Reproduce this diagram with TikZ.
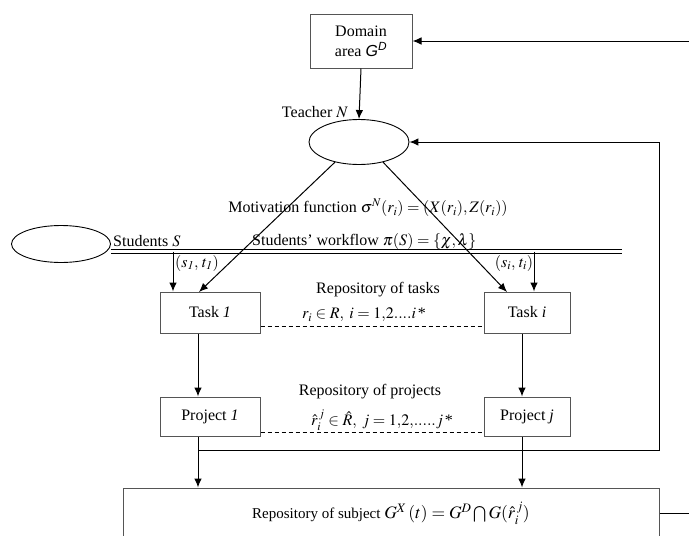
\documentclass[tikz,border=0pt]{standalone}
\usepackage{mathptmx}
\usepackage[no-math]{fontspec}
\setmainfont{Liberation Serif}
\setsansfont{Liberation Sans}
\usetikzlibrary{arrows.meta,shapes.geometric}

\definecolor{boxedge}{RGB}{85,85,85}

\tikzset{
  txt/.style={font=\fontsize{16}{19}\selectfont, inner sep=0pt},
  box/.style={draw=boxedge, line width=1pt, rectangle, inner sep=0pt,
              font=\fontsize{16}{20}\selectfont, align=center},
  oval/.style={draw=black, line width=0.9pt, ellipse, inner sep=0pt},
  flow/.style={draw=black, line width=1pt, -{Latex[length=9pt,width=7.5pt]}},
  plain/.style={draw=black, line width=1pt},
  link/.style={draw=black, line width=0.8pt, dash pattern=on 4pt off 3pt},
}

\begin{document}
\begin{tikzpicture}[x=1pt,y=-1pt]
\useasboundingbox (0,0) rectangle (689,536);
\clip (0,0) rectangle (689,536);

% boxes and actors
\node[box, minimum width=102pt, minimum height=54pt] (domain) at (361,41)
  {Domain\\area \textsf{\textit{G}\textsuperscript{\textit{D}}}};
\node[oval, minimum width=100pt, minimum height=45pt] (teacher) at (359,142) {};
\node[oval, minimum width=99pt, minimum height=37pt] (students) at (61,244) {};
\node[box, minimum width=100pt, minimum height=41pt] (t1) at (210,312.5) {Task \textit{1}};
\node[box, minimum width=86pt, minimum height=41pt] (ti) at (527,312.5) {Task \textit{i}};
\node[box, minimum width=100pt, minimum height=39pt] (p1) at (210,416.5) {Project \textit{1}};
\node[box, minimum width=86pt, minimum height=39pt] (pj) at (527,416.5) {Project \textit{j}};
\node[box, minimum width=536pt, minimum height=50pt] (subject) at (391,513)
  {\fontsize{15}{18}\selectfont Repository of subject
   {\fontsize{17.5}{20}\selectfont $G^{X}\,(t) = G^{D} \bigcap G(\hat{r}_i^{\,j})$}};

% labels
\node[txt] (lteacher) at (315,112) {Teacher $N$};
\node[txt] (lmotiv) at (368,208)
  {Motivation function $\sigma^{N}(r_i) = (X(r_i), Z(r_i))$};
\node[txt, anchor=west] (lstud) at (113,241) {Students $S$};
\node[txt, anchor=west] (lflow) at (252,241)
  {Students' workflow $\pi(S) = \{\chi, \lambda\}$};
\node[txt] (ls1) at (197,263) {$(s_{\mathit{1}},\, t_{\mathit{1}})$};
\node[txt] (lsi) at (514,263) {$(s_{i},\, t_{i})$};
\node[txt] (ltasks) at (378,290) {Repository of tasks};
\node[txt] (ltaskf) at (364,315) {$r_i \in R,\; i = 1{,}2....i\,\mbox{*}$};
\node[txt] (lproj) at (370,392) {Repository of projects};
\node[txt] (lprojf) at (382,420) {$\hat{r}_i^{\,j} \in \hat{R},\; j = 1{,}2{,}.....j\,\mbox{*}$};

% free ends and bends
\coordinate (dfeed) at (689,41);
\coordinate (sfeed) at (689,513);
\coordinate (t1in) at (199,292);
\coordinate (tiin) at (507,292);
\coordinate (s1top) at (173,251.5);
\coordinate (sitop) at (534,251.5);
\coordinate (wfend) at (622,251.5);
\coordinate (c1) at (198,0);
\coordinate (cj) at (522,0);
\coordinate (bus) at (0,450);
\coordinate (loop) at (659,0);

% workflow channel
\draw[double=white, double distance=2.4pt, line width=0.85pt] (students.east |- wfend) -- (wfend);

% connectors
\draw[flow] (dfeed) -- (domain.east);
\draw[plain] (subject.east) -- (sfeed);
\draw[flow] (domain.south) -- (teacher.north);
\draw[flow] (teacher.220) -- (t1in);
\draw[flow] (teacher.-40) -- (tiin);
\draw[flow] (s1top) -- (s1top |- t1.north);
\draw[flow] (sitop) -- (sitop |- ti.north);
\draw[flow] (c1 |- t1.south) -- (c1 |- p1.north);
\draw[flow] (cj |- ti.south) -- (cj |- pj.north);
\draw[flow] (c1 |- p1.south) -- (c1 |- subject.north);
\draw[flow] (cj |- pj.south) -- (cj |- subject.north);
\draw[flow] (c1 |- bus) -- (loop |- bus) -- (loop |- teacher.east) -- (teacher.east);

% repository links
\draw[link] (t1.east |- 0,326) -- (ti.west |- 0,326);
\draw[link] (p1.east |- 0,432) -- (pj.west |- 0,432);
\end{tikzpicture}
\end{document}
